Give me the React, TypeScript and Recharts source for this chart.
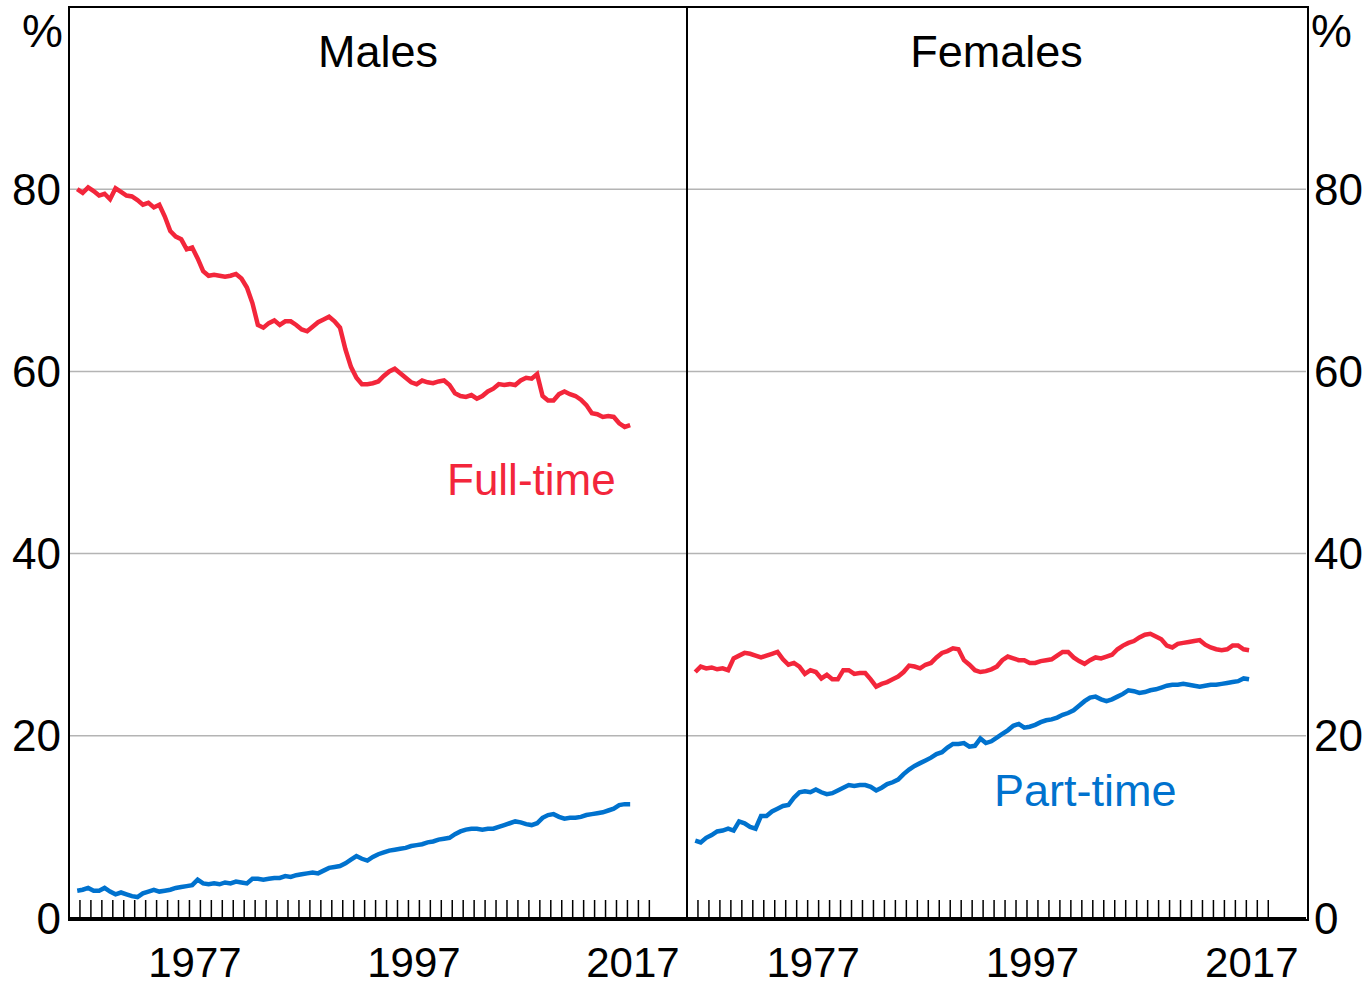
import { CartesianGrid, Line, LineChart, XAxis, YAxis } from "recharts";

const FONT = "'Liberation Sans', Arial, sans-serif";
const RED = "#f3263b";
const BLUE = "#0072ce";

// half-yearly observations, mid-1966 to mid-2017
const YEARS = Array.from({ length: 102 }, (_, i) => 1966.75 + i * 0.5);
const YEAR_TICKS = Array.from({ length: 53 }, (_, i) => 1967 + i);
const LABEL_TICKS = [1977.5, 1997.5, 2017.5];
const Y_TICKS = [0, 20, 40, 60, 80];

const MALE_FT = [
  80.0, 79.6, 80.2, 79.8, 79.3, 79.5, 78.9, 80.1, 79.7, 79.3,
  79.2, 78.8, 78.3, 78.5, 78.0, 78.3, 77.0, 75.4, 74.8, 74.5,
  73.4, 73.6, 72.4, 71.0, 70.5, 70.6, 70.5, 70.4, 70.5, 70.7,
  70.2, 69.2, 67.5, 65.1, 64.8, 65.3, 65.6, 65.1, 65.5, 65.5,
  65.1, 64.6, 64.4, 64.9, 65.4, 65.7, 66.0, 65.5, 64.8, 62.4,
  60.5, 59.3, 58.6, 58.6, 58.7, 58.9, 59.5, 60.0, 60.3, 59.8,
  59.3, 58.8, 58.6, 59.0, 58.8, 58.7, 58.9, 59.0, 58.5, 57.6,
  57.3, 57.2, 57.4, 57.0, 57.3, 57.8, 58.1, 58.6, 58.5, 58.6,
  58.5, 59.0, 59.3, 59.2, 59.7, 57.3, 56.8, 56.8, 57.5, 57.8,
  57.5, 57.3, 56.9, 56.3, 55.4, 55.3, 55.0, 55.1, 55.0, 54.3,
  53.9, 54.1
];

const MALE_PT = [
  3.0, 3.1, 3.3, 3.0, 3.0, 3.3, 2.9, 2.6, 2.8, 2.6,
  2.4, 2.3, 2.7, 2.9, 3.1, 2.9, 3.0, 3.1, 3.3, 3.4,
  3.5, 3.6, 4.2, 3.8, 3.7, 3.8, 3.7, 3.9, 3.8, 4.0,
  3.9, 3.8, 4.3, 4.3, 4.2, 4.3, 4.4, 4.4, 4.6, 4.5,
  4.7, 4.8, 4.9, 5.0, 4.9, 5.2, 5.5, 5.6, 5.7, 6.0,
  6.4, 6.8, 6.5, 6.3, 6.7, 7.0, 7.2, 7.4, 7.5, 7.6,
  7.7, 7.9, 8.0, 8.1, 8.3, 8.4, 8.6, 8.7, 8.8, 9.2,
  9.5, 9.7, 9.8, 9.8, 9.7, 9.8, 9.8, 10.0, 10.2, 10.4,
  10.6, 10.5, 10.3, 10.2, 10.4, 11.0, 11.3, 11.4, 11.1, 10.9,
  11.0, 11.0, 11.1, 11.3, 11.4, 11.5, 11.6, 11.8, 12.0, 12.4,
  12.5, 12.5
];

const FEMALE_FT = [
  27.0, 27.6, 27.4, 27.5, 27.3, 27.4, 27.2, 28.5, 28.8, 29.1,
  29.0, 28.8, 28.6, 28.8, 29.0, 29.2, 28.4, 27.8, 28.0, 27.6,
  26.8, 27.2, 27.0, 26.3, 26.7, 26.2, 26.2, 27.2, 27.2, 26.8,
  26.9, 26.9, 26.2, 25.4, 25.7, 25.9, 26.2, 26.5, 27.0, 27.7,
  27.6, 27.4, 27.8, 28.0, 28.6, 29.1, 29.3, 29.6, 29.5, 28.3,
  27.8, 27.2, 27.0, 27.1, 27.3, 27.6, 28.3, 28.7, 28.5, 28.3,
  28.3, 28.0, 28.0, 28.2, 28.3, 28.4, 28.8, 29.2, 29.2, 28.6,
  28.2, 27.9, 28.3, 28.6, 28.5, 28.7, 28.9, 29.5, 29.9, 30.2,
  30.4, 30.8, 31.1, 31.2, 30.9, 30.6, 29.9, 29.7, 30.1, 30.2,
  30.3, 30.4, 30.5, 30.0, 29.7, 29.5, 29.4, 29.5, 29.9, 29.9,
  29.5, 29.4
];

const FEMALE_PT = [
  8.5, 8.3, 8.8, 9.1, 9.5, 9.6, 9.8, 9.6, 10.6, 10.4,
  10.0, 9.8, 11.2, 11.2, 11.7, 12.0, 12.3, 12.4, 13.2, 13.8,
  13.9, 13.8, 14.1, 13.8, 13.6, 13.7, 14.0, 14.3, 14.6, 14.5,
  14.6, 14.6, 14.4, 14.0, 14.3, 14.7, 14.9, 15.2, 15.8, 16.3,
  16.7, 17.0, 17.3, 17.6, 18.0, 18.2, 18.7, 19.1, 19.1, 19.2,
  18.8, 18.9, 19.7, 19.2, 19.4, 19.8, 20.2, 20.6, 21.1, 21.3,
  20.9, 21.0, 21.2, 21.5, 21.7, 21.8, 22.0, 22.3, 22.5, 22.8,
  23.3, 23.8, 24.2, 24.3, 24.0, 23.8, 24.0, 24.3, 24.6, 25.0,
  24.9, 24.7, 24.8, 25.0, 25.1, 25.3, 25.5, 25.6, 25.6, 25.7,
  25.6, 25.5, 25.4, 25.5, 25.6, 25.6, 25.7, 25.8, 25.9, 26.0,
  26.3, 26.2
];

const maleData = YEARS.map((year, i) => ({ year, ft: MALE_FT[i], pt: MALE_PT[i] }));
const femaleData = YEARS.map((year, i) => ({ year, ft: FEMALE_FT[i], pt: FEMALE_PT[i] }));

const X_DOMAIN: [number, number] = [1966, 2022.44];

// inward-pointing year tick
function YearTick(props: any) {
  const { x, y } = props;
  return <line x1={x} x2={x} y1={y} y2={y - 18} stroke="#000" strokeWidth={1.5} />;
}

function Panel({ data, side }: { data: { year: number; ft: number; pt: number }[]; side: "left" | "right" }) {
  const isLeft = side === "left";
  return (
    <LineChart
      width={isLeft ? 687 : 684}
      height={987}
      data={data}
      margin={{ top: 7, right: 0, bottom: 0, left: 0 }}
    >
      <CartesianGrid xAxisId="yr" vertical={false} stroke="#b4b4b4" strokeWidth={1.5} />
      <XAxis
        xAxisId="yr"
        dataKey="year"
        type="number"
        domain={X_DOMAIN}
        ticks={YEAR_TICKS}
        interval={0}
        mirror
        tick={<YearTick />}
        tickSize={0}
        tickMargin={0}
        tickLine={false}
        axisLine={{ stroke: "#000", strokeWidth: 2 }}
        allowDataOverflow
      />
      <XAxis
        xAxisId="lbl"
        dataKey="year"
        type="number"
        domain={X_DOMAIN}
        ticks={LABEL_TICKS}
        interval={0}
        height={69}
        tickSize={0}
        tickMargin={29}
        tickLine={false}
        axisLine={false}
        tickFormatter={(v: number) => String(Math.floor(v))}
        tick={{ fill: "#000", fontSize: 42, fontFamily: FONT }}
        allowDataOverflow
      />
      <YAxis
        orientation={isLeft ? "left" : "right"}
        width={isLeft ? 69 : 65}
        domain={[0, 100]}
        ticks={Y_TICKS}
        interval={0}
        axisLine={false}
        tickLine={false}
        tick={{ fill: "#000", fontSize: 44, fontFamily: FONT }}
      />
      <Line xAxisId="yr" dataKey="ft" stroke={RED} strokeWidth={4.5} dot={false} isAnimationActive={false} />
      <Line xAxisId="yr" dataKey="pt" stroke={BLUE} strokeWidth={4.5} dot={false} isAnimationActive={false} />
    </LineChart>
  );
}

const textBase: React.CSSProperties = {
  position: "absolute",
  fontFamily: FONT,
  lineHeight: 1,
  whiteSpace: "nowrap",
};

export default function App() {
  return (
    <div style={{ position: "absolute", left: 0, top: 0, width: 1371, height: 987, background: "#fff" }}>
      <div style={{ position: "absolute", left: 0, top: 0 }}>
        <Panel data={maleData} side="left" />
      </div>
      <div style={{ position: "absolute", left: 687, top: 0 }}>
        <Panel data={femaleData} side="right" />
      </div>
      {/* frame */}
      <div
        style={{
          position: "absolute",
          left: 68,
          top: 6,
          width: 1239 - 2,
          height: 913 - 2,
          border: "2px solid #000",
          pointerEvents: "none",
        }}
      />
      <div style={{ position: "absolute", left: 686, top: 6, width: 2, height: 913, background: "#000" }} />
      <div style={{ ...textBase, left: 0, width: 63, textAlign: "right", top: 8, fontSize: 46 }}>%</div>
      <div style={{ ...textBase, left: 1311, top: 8, fontSize: 46 }}>%</div>
      <div style={{ ...textBase, left: 69, width: 618, textAlign: "center", top: 29, fontSize: 45 }}>Males</div>
      <div style={{ ...textBase, left: 687, width: 619, textAlign: "center", top: 29, fontSize: 45 }}>Females</div>
      <div style={{ ...textBase, left: 447, top: 458, fontSize: 44, color: RED }}>Full-time</div>
      <div style={{ ...textBase, left: 994, top: 768, fontSize: 45, color: BLUE }}>Part-time</div>
    </div>
  );
}
